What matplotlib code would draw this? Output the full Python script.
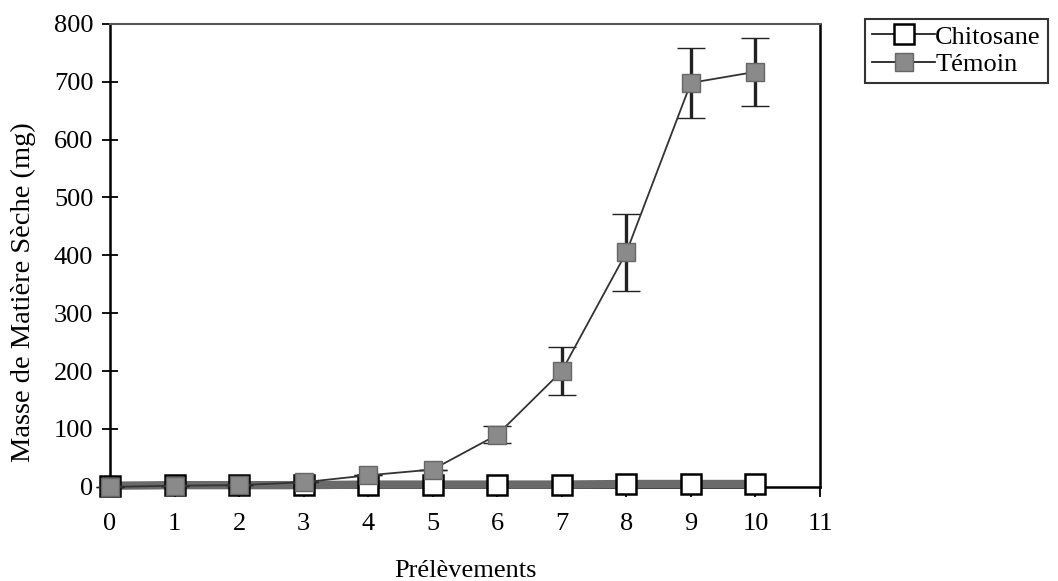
import matplotlib.pyplot as plt
from matplotlib.lines import Line2D

plt.rcParams['font.family'] = ['Liberation Serif', 'DejaVu Serif']

prelevements = [0, 1, 2, 3, 4, 5, 6, 7, 8, 9, 10]
chitosane = [2, 3, 3, 3, 4, 4, 4, 4, 5, 5, 5]
temoin = [0, 2, 3, 8, 20, 30, 90, 200, 405, 698, 717]
temoin_err = [0, 0, 0, 0, 0, 0, 15, 41, 67, 60, 59]

fig = plt.figure(figsize=(10.58, 5.81), dpi=100)
ax = fig.add_axes([0.104, 0.162, 0.671, 0.797])

ax.plot(prelevements, chitosane, color='#6a6a6a', lw=6, marker='s', ms=14,
        mfc='white', mec='black', mew=1.8, zorder=3, clip_on=False)
ax.errorbar(prelevements, temoin, yerr=temoin_err, color='#333333', lw=1.3,
            marker='s', ms=13, mfc='#8a8a8a', mec='#666666', mew=1,
            ecolor='#222222', elinewidth=2.4, capsize=10, capthick=2.8,
            zorder=4, clip_on=False)

ax.set_xlim(0, 11)
ax.set_ylim(0, 800)
ax.set_xticks(range(0, 12))
ax.set_yticks(range(0, 801, 100))
ax.tick_params(axis='y', direction='inout', length=12, width=1.3, labelsize=19, pad=6)
ax.tick_params(axis='x', direction='out', length=7, width=1.3, labelsize=19, pad=12)
for s in ax.spines.values():
    s.set_linewidth(1.8)
ax.spines['top'].set_color('#555555')
ax.spines['top'].set_linewidth(1.5)
ax.set_xlabel('Prélèvements', fontsize=19, labelpad=18)
ax.set_ylabel('Masse de Matière Sèche (mg)', fontsize=20.5)
ax.yaxis.set_label_coords(-0.104, 0.42)

handles = [
    Line2D([], [], color='#222222', lw=1.3, marker='s', ms=14, mfc='white',
           mec='black', mew=1.8),
    Line2D([], [], color='#222222', lw=1.3, marker='s', ms=13, mfc='#8a8a8a',
           mec='#666666', mew=1),
]
leg = fig.legend(handles, ['Chitosane', 'Témoin'], loc='upper left',
                 bbox_to_anchor=(0.818, 0.968), fontsize=19,
                 frameon=True, fancybox=False, edgecolor='black',
                 handlelength=2.4, borderpad=0.25, labelspacing=0.15,
                 handletextpad=0.0, borderaxespad=0)
leg.get_frame().set_linewidth(1.5)

fig.savefig('out.png', dpi=100)
